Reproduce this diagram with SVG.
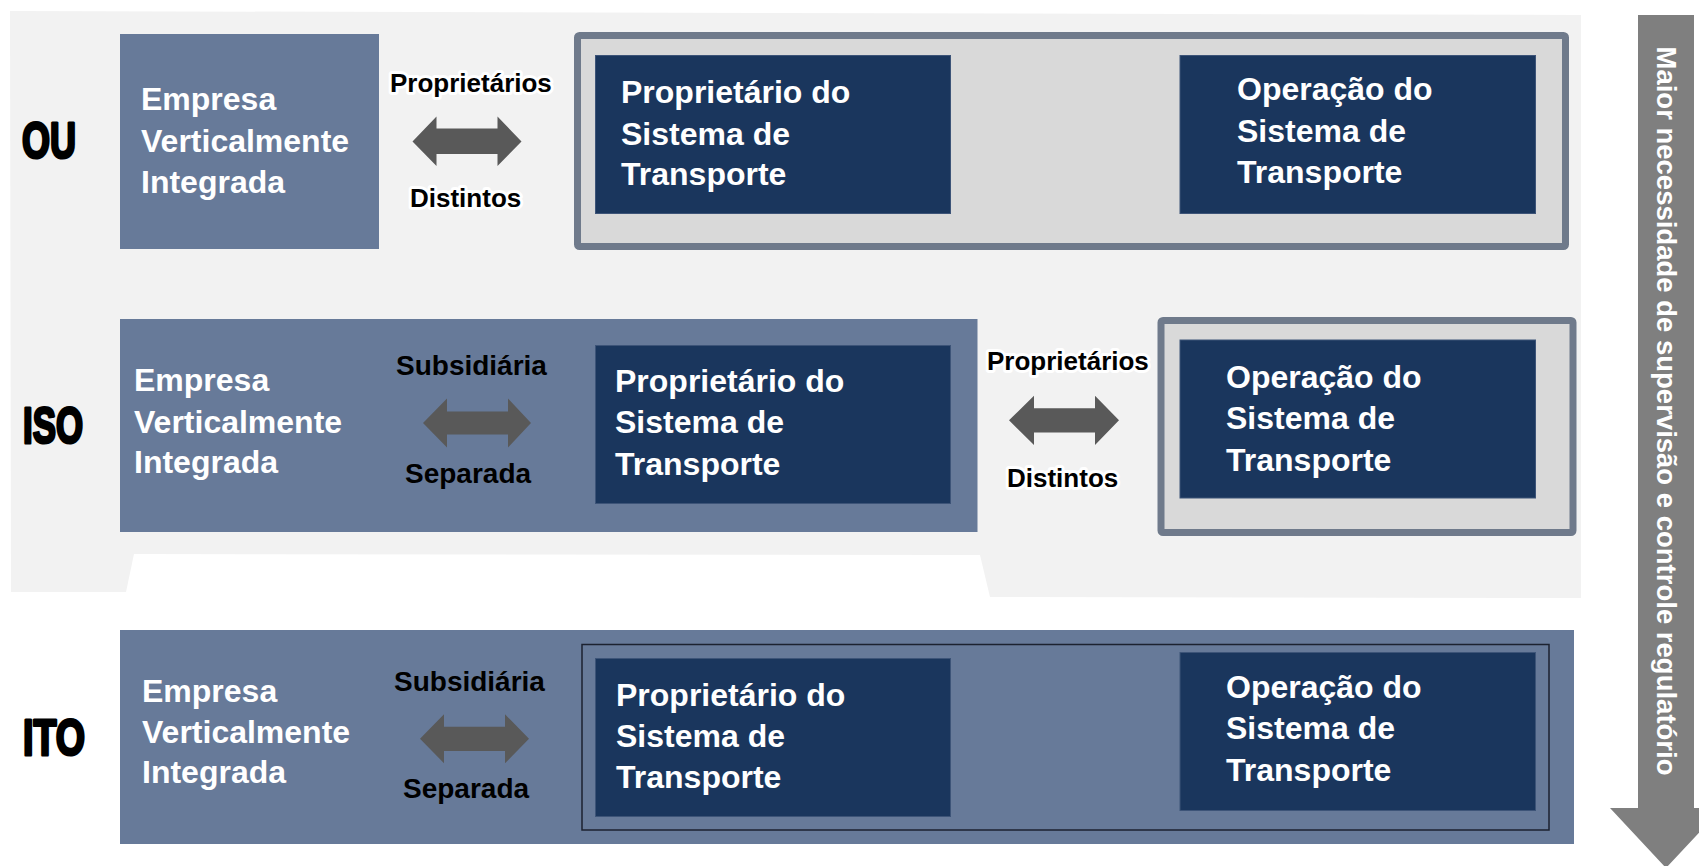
<svg xmlns="http://www.w3.org/2000/svg" width="1699" height="866" viewBox="0 0 1699 866">
<style>
.node-t{font-family:"Liberation Sans",Arial,sans-serif;font-weight:bold;font-size:32px;fill:#ffffff}
.lbl{font-family:"Liberation Sans",Arial,sans-serif;font-weight:bold;fill:#000000}
.halo{stroke:#ffffff;stroke-width:6;stroke-linejoin:round;paint-order:stroke}
.tag{font-family:"Liberation Sans",Arial,sans-serif;font-weight:bold;font-size:50px;fill:#000;stroke:#000;stroke-width:3;stroke-linejoin:round}
.slate{fill:#677a99}
.navy{fill:#1a365d;stroke:#3d5478;stroke-width:1}
.cont{fill:#d9d9d9;stroke:#6f7a8b;stroke-width:7}
.dbl{fill:#595959}
</style>
<rect width="1699" height="866" fill="#ffffff"/>
<path id="panel" d="M10,11 L1581,15 L1581,598 L990,597 L980,555 L134,554 L126,592 L11,592 Z" fill="#f2f2f2"/>

<g id="big-arrow">
<polygon points="1638,15 1694,15 1694,808 1722,808 1666,868 1610,808 1638,808" fill="#7f7f7f"/>
<text x="1657" y="411" transform="rotate(90 1657 411)" text-anchor="middle" font-family="Liberation Sans, Arial, sans-serif" font-weight="bold" font-size="27.5" fill="#ffffff">Maior necessidade de supervisão e controle regulatório</text>
</g>

<g id="tags">
<text class="tag" x="22" y="158" textLength="54" lengthAdjust="spacingAndGlyphs">OU</text>
<text class="tag" x="23" y="443" textLength="60" lengthAdjust="spacingAndGlyphs">ISO</text>
<text class="tag" x="23" y="755" textLength="62" lengthAdjust="spacingAndGlyphs">ITO</text>
</g>

<!-- Row OU -->
<g id="ou-empresa">
<rect class="slate" x="120" y="34" width="259" height="215"/>
<text class="node-t" x="141" y="110">Empresa</text>
<text class="node-t" x="141" y="152">Verticalmente</text>
<text class="node-t" x="141" y="193">Integrada</text>
</g>
<g id="ou-container">
<rect class="cont" x="577.5" y="35.5" width="988" height="211" rx="2"/>
</g>
<g id="ou-proprietario">
<rect class="navy" x="595.5" y="55.5" width="355" height="158"/>
<text class="node-t" x="621" y="103">Proprietário do</text>
<text class="node-t" x="621" y="145">Sistema de</text>
<text class="node-t" x="621" y="185">Transporte</text>
</g>
<g id="ou-operacao">
<rect class="navy" x="1180" y="55.5" width="355.5" height="158"/>
<text class="node-t" x="1237" y="100">Operação do</text>
<text class="node-t" x="1237" y="142">Sistema de</text>
<text class="node-t" x="1237" y="183">Transporte</text>
</g>

<!-- Row ISO -->
<g id="iso-empresa">
<rect class="slate" x="120" y="319" width="857.5" height="213"/>
<text class="node-t" x="134" y="391">Empresa</text>
<text class="node-t" x="134" y="433">Verticalmente</text>
<text class="node-t" x="134" y="473">Integrada</text>
</g>
<g id="iso-proprietario">
<rect class="navy" x="595.5" y="345.5" width="355" height="158"/>
<text class="node-t" x="615" y="392">Proprietário do</text>
<text class="node-t" x="615" y="433">Sistema de</text>
<text class="node-t" x="615" y="475">Transporte</text>
</g>
<g id="iso-container">
<rect class="cont" x="1161" y="320.5" width="412" height="212" rx="2"/>
</g>
<g id="iso-operacao">
<rect class="navy" x="1180" y="340" width="355.5" height="158"/>
<text class="node-t" x="1226" y="388">Operação do</text>
<text class="node-t" x="1226" y="429">Sistema de</text>
<text class="node-t" x="1226" y="471">Transporte</text>
</g>

<!-- Row ITO -->
<g id="ito-empresa">
<rect class="slate" x="120" y="630" width="1454" height="214"/>
<text class="node-t" x="142" y="702">Empresa</text>
<text class="node-t" x="142" y="743">Verticalmente</text>
<text class="node-t" x="142" y="783">Integrada</text>
</g>
<g id="ito-frame">
<rect x="582" y="644.5" width="967" height="185.5" fill="none" stroke="#1c2230" stroke-width="1.5"/>
</g>
<g id="ito-proprietario">
<rect class="navy" x="595.5" y="658.5" width="355" height="158"/>
<text class="node-t" x="616" y="706">Proprietário do</text>
<text class="node-t" x="616" y="747">Sistema de</text>
<text class="node-t" x="616" y="788">Transporte</text>
</g>
<g id="ito-operacao">
<rect class="navy" x="1180" y="652.5" width="355.5" height="158"/>
<text class="node-t" x="1226" y="698">Operação do</text>
<text class="node-t" x="1226" y="739">Sistema de</text>
<text class="node-t" x="1226" y="781">Transporte</text>
</g>

<g id="connectors">
<polygon class="dbl" points="412.5,141.5 436.5,116.5 436.5,128.5 497.5,128.5 497.5,116.5 521.5,141.5 497.5,166 497.5,154 436.5,154 436.5,166"/>
<text class="lbl halo" x="390" y="92" font-size="26">Proprietários</text>
<text class="lbl halo" x="410" y="207" font-size="26">Distintos</text>

<polygon class="dbl" points="423,423 447,398.5 447,411.5 508,411.5 508,398.5 531,423 508,447.5 508,434.5 447,434.5 447,447.5"/>
<text class="lbl" x="396" y="375" font-size="28">Subsidiária</text>
<text class="lbl" x="405" y="483" font-size="28">Separada</text>

<polygon class="dbl" points="1009,420.3 1034,395.7 1034,408.3 1095,408.3 1095,395.7 1119,420.3 1095,445 1095,432.5 1034,432.5 1034,445"/>
<text class="lbl halo" x="987" y="370" font-size="26">Proprietários</text>
<text class="lbl halo" x="1007" y="487" font-size="26">Distintos</text>

<polygon class="dbl" points="420,738.8 444,714.3 444,726.7 505,726.7 505,714.3 529,738.8 505,763.3 505,751 444,751 444,763.3"/>
<text class="lbl" x="394" y="691" font-size="28">Subsidiária</text>
<text class="lbl" x="403" y="798" font-size="28">Separada</text>
</g>
</svg>
